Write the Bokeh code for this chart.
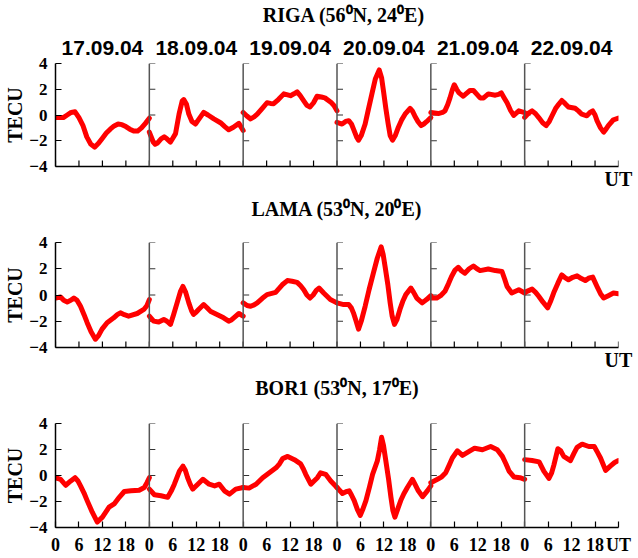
from bokeh.plotting import figure
from bokeh.models import Range1d, LinearAxis, FixedTicker, Span
from bokeh.layouts import column
from bokeh.embed import file_html
from bokeh.resources import INLINE

# ---------------- data ----------------
dates = ["17.09.04", "18.09.04", "19.09.04", "20.09.04", "21.09.04", "22.09.04"]
stations = ["RIGA (56\u2070N, 24\u2070E)", "LAMA (53\u2070N, 20\u2070E)", "BOR1 (53\u2070N, 17\u2070E)"]
hour_ticks = [0, 6, 12, 18]
tecu_ticks = [-4, -2, 0, 2, 4]
x_unit = "UT"
y_unit = "TECU"

riga_hours = [
    [0, 1, 2, 3, 4, 5, 6, 7, 8, 9, 10, 11, 12, 13, 14, 15, 16, 17, 18, 19, 20, 21, 22, 23, 24],
    [0, 1, 1.5, 2, 3, 3.8, 4.5, 5.4, 6, 6.7, 7.6, 8.4, 8.8, 9.5, 10.1, 10.9, 11.8, 12.5, 13.9, 15, 16.5, 18.2, 19.3, 20.3, 21.5, 22.9, 24],
    [0, 1, 1.9, 2.8, 3.6, 5, 6.1, 7, 7.8, 9, 10.4, 12.1, 13, 13.8, 14.6, 15.5, 16.3, 17.1, 18, 18.9, 20, 20.9, 22.6, 23.3, 24],
    [0, 1.3, 2.2, 3, 3.7, 4.2, 5, 5.5, 6.2, 7.2, 8, 8.9, 9.8, 10.8, 11.4, 11.9, 12.5, 13.1, 13.6, 14.2, 14.9, 15.7, 16.5, 17.4, 18.7, 19.3, 19.9, 20.7, 21.5, 22.2, 22.9, 24],
    [0, 1.9, 3, 3.6, 4.3, 4.9, 5.5, 6, 6.6, 7.2, 8.3, 9.2, 10, 10.9, 11.8, 12.6, 13.5, 14.7, 16.5, 17.3, 18, 18.8, 19.5, 20.4, 21.2, 22.5, 24],
    [0, 1, 1.9, 2.8, 3.6, 4.6, 5.5, 6.3, 7, 7.9, 8.7, 9.5, 10.3, 11.2, 12.9, 13.8, 14.6, 15.9, 16.7, 17.4, 18, 18.5, 19.4, 20.2, 20.8, 21.4, 22.7, 24],
]
riga_tec = [
    [-0.2, -0.2, -0.2, 0.0, 0.2, 0.25, -0.2, -0.8, -1.7, -2.25, -2.5, -2.2, -1.8, -1.4, -1.1, -0.85, -0.7, -0.75, -0.9, -1.1, -1.25, -1.25, -1.0, -0.65, -0.25],
    [-1.33, -2.1, -2.27, -2.2, -1.85, -1.7, -1.85, -2.1, -1.8, -1.45, 0.07, 1.08, 1.2, 0.83, 0.07, -0.5, -0.7, -0.4, 0.2, 0.0, -0.3, -0.6, -0.9, -1.15, -0.95, -0.65, -1.2],
    [0.2, -0.1, -0.3, -0.15, 0.06, 0.55, 0.95, 0.9, 0.88, 1.2, 1.64, 1.5, 1.65, 1.8, 1.5, 1.1, 0.75, 0.62, 0.95, 1.46, 1.4, 1.33, 0.95, 0.7, 0.32],
    [-0.57, -0.7, -0.5, -0.44, -0.7, -1.08, -1.7, -1.96, -1.6, -0.7, 0.4, 1.6, 2.8, 3.5, 2.9, 1.84, 0.5, -0.7, -1.6, -1.96, -1.6, -0.95, -0.4, 0.06, 0.52, 0.3, -0.07, -0.5, -0.82, -0.7, -0.52, -0.2],
    [0.19, 0.11, 0.2, 0.32, 0.8, 1.33, 1.95, 2.35, 2.0, 1.72, 1.46, 1.7, 1.9, 1.9, 1.6, 1.33, 1.33, 1.64, 1.54, 1.6, 1.72, 1.3, 0.95, 0.35, -0.03, 0.32, 0.19],
    [-0.19, 0.15, 0.32, 0.1, -0.2, -0.6, -0.82, -0.5, -0.06, 0.5, 0.83, 1.13, 0.9, 0.62, 0.52, 0.3, 0.06, -0.06, 0.2, 0.32, 0.0, -0.44, -1.0, -1.33, -1.1, -0.82, -0.37, -0.24],
]

lama_hours = [
    [0, 1.3, 2.1, 3, 3.9, 4.7, 5.5, 6.4, 7.3, 8.1, 9.1, 10.2, 11, 11.9, 13.2, 14.9, 15.8, 16.6, 17.6, 18.7, 20.9, 22.6, 23.4, 24],
    [0, 1.1, 2.4, 3.7, 4.5, 5.4, 6.2, 7.1, 8, 8.6, 9.3, 10.1, 10.8, 11.3, 12, 12.6, 13.9, 14.7, 15.6, 17.3, 19, 20.3, 21, 21.6, 22.9, 24],
    [0, 1, 1.9, 2.8, 3.6, 4.9, 6.1, 8.3, 9.2, 10, 11.3, 12.5, 13.8, 14.7, 15.5, 16.3, 17.1, 17.9, 18.7, 19.4, 20.6, 22.3, 24],
    [0, 1.7, 3, 3.7, 4.2, 4.9, 5.5, 6.2, 7.2, 8.2, 9.3, 10.3, 11.3, 11.8, 12.3, 13, 13.6, 14.1, 14.7, 15.3, 16.1, 16.8, 17.6, 18.9, 19.6, 20.4, 21.8, 22.9, 24],
    [0, 1.5, 2.5, 3.6, 4.5, 5.3, 6.2, 7, 7.8, 8.7, 9.8, 10.9, 11.8, 12.6, 14.7, 16.5, 18.2, 18.9, 19.5, 20.7, 22.5, 24],
    [0, 1.9, 2.8, 3.6, 4.7, 5.9, 6.6, 7.4, 8.5, 9.5, 10.4, 11.2, 12.3, 13.4, 14.5, 15.5, 16.5, 17.4, 18.5, 19.4, 20.2, 21.4, 22.7, 24],
]
lama_tec = [
    [-0.23, -0.15, -0.4, -0.53, -0.4, -0.23, -0.4, -0.86, -1.5, -2.11, -2.8, -3.37, -3.1, -2.6, -2.11, -1.74, -1.5, -1.36, -1.5, -1.61, -1.41, -1.1, -0.8, -0.35],
    [-1.61, -1.99, -2.06, -1.86, -2.0, -2.24, -1.5, -0.6, 0.3, 0.65, 0.2, -0.6, -1.2, -1.48, -1.3, -1.11, -0.73, -0.95, -1.23, -1.48, -1.74, -1.99, -1.9, -1.74, -1.41, -1.61],
    [-0.6, -0.8, -0.86, -0.75, -0.6, -0.25, 0.03, 0.2, 0.5, 0.78, 1.1, 1.05, 0.96, 0.7, 0.4, 0.0, -0.23, 0.0, 0.35, 0.53, 0.15, -0.35, -0.6],
    [-0.6, -0.73, -0.73, -1.0, -1.36, -2.0, -2.6, -2.0, -0.86, 0.4, 1.66, 2.8, 3.67, 3.1, 2.16, 0.8, -0.6, -1.6, -2.24, -1.9, -1.1, -0.5, 0.03, 0.53, 0.2, -0.23, -0.6, -0.35, -0.05],
    [-0.23, -0.23, -0.05, 0.28, 0.85, 1.41, 1.9, 2.11, 1.85, 1.66, 2.0, 2.21, 2.0, 1.86, 1.98, 1.86, 1.79, 1.2, 0.65, 0.15, 0.4, 0.15],
    [0.2, 0.45, 0.2, -0.1, -0.55, -0.98, -0.5, 0.15, 0.9, 1.53, 1.3, 1.16, 1.35, 1.46, 1.25, 1.1, 1.3, 1.36, 0.65, 0.1, -0.23, -0.05, 0.15, 0.1],
]

bor1_hours = [
    [0, 1.3, 2.6, 3.9, 5, 5.7, 6.4, 7.3, 8.1, 9.4, 10.7, 12, 13.7, 15, 16.3, 17.6, 19.3, 21.4, 22.7, 23.4, 24],
    [0, 1.3, 3, 4.7, 5.6, 6.4, 7.7, 8.6, 9.2, 9.8, 10.5, 11.1, 11.8, 12.4, 13.7, 15.3, 16.7, 17.9, 19.2, 20.5, 22.1, 24],
    [0, 1.5, 3.3, 5, 6.7, 8.4, 9.3, 10.1, 11.4, 13.1, 14.7, 15.4, 16, 17.3, 18.2, 19, 19.8, 21.1, 22.4, 24],
    [0, 1.4, 2.3, 3.1, 3.7, 4.4, 5.2, 5.96, 6.6, 7.4, 8.3, 9.1, 10.3, 10.9, 11.4, 11.9, 12.5, 13.2, 13.8, 14.3, 14.8, 15.5, 16.3, 17.1, 18, 19.3, 20, 20.8, 21.9, 23.1, 24],
    [0, 1.7, 2.8, 3.8, 4.7, 5.5, 6.8, 8.1, 9.8, 11.2, 13.2, 15.3, 17, 18.3, 19.2, 20, 21.3, 22.8, 24],
    [0, 1.9, 3.7, 4.9, 6.2, 6.9, 7.5, 8.5, 9.2, 10, 11.7, 12.6, 13.4, 14.7, 16.4, 17.8, 18.6, 19.4, 20.7, 21.9, 23, 24],
]
bor1_tec = [
    [-0.17, -0.29, -0.75, -0.42, -0.17, -0.4, -0.8, -1.35, -1.93, -2.82, -3.58, -3.2, -2.44, -2.19, -1.68, -1.23, -1.18, -1.13, -0.92, -0.55, -0.17],
    [-1.05, -1.48, -1.56, -1.68, -1.2, -0.67, 0.34, 0.72, 0.4, -0.17, -0.7, -1.05, -0.85, -0.67, -0.29, -0.67, -0.8, -0.67, -1.18, -1.43, -1.05, -0.92],
    [-0.92, -0.97, -0.67, -0.17, 0.21, 0.59, 0.9, 1.3, 1.47, 1.22, 0.9, 0.5, 0.09, -0.67, -0.4, -0.17, 0.21, 0.09, -0.42, -0.92],
    [-0.92, -1.38, -1.25, -1.18, -1.5, -1.93, -2.6, -3.07, -2.6, -1.93, -0.9, 0.09, 1.1, 2.0, 2.94, 2.3, 1.1, -0.3, -1.68, -2.7, -3.2, -2.6, -1.93, -1.4, -0.92, -0.29, -0.7, -1.18, -1.63, -1.18, -0.8],
    [-0.55, -0.29, -0.1, 0.21, 0.8, 1.35, 1.9, 1.55, 1.85, 2.1, 1.98, 2.23, 1.98, 1.47, 0.9, 0.34, -0.12, -0.17, -0.29],
    [1.22, 1.15, 1.05, 0.34, -0.22, 0.2, 0.84, 2.06, 1.9, 1.47, 1.15, 1.7, 2.16, 2.41, 2.23, 2.23, 1.8, 1.35, 0.39, 0.72, 1.0, 1.15],
]

# ---------------- styling ----------------
SERIF = "Liberation Serif"
SANS = "Liberation Sans"
W = 638
BL, BR = 55, 20
DAY = 24
NDAYS = len(dates)
TICK_PX = 6


def text_axis(ticks, labels, font, size, standoff):
    ax = LinearAxis(ticker=FixedTicker(ticks=ticks),
                    major_label_overrides={t: s for t, s in zip(ticks, labels)})
    ax.axis_line_color = None
    ax.major_tick_line_color = None
    ax.minor_tick_line_color = None
    ax.major_label_text_font = font
    ax.major_label_text_font_style = "bold"
    ax.major_label_text_font_size = size
    ax.major_label_text_color = "black"
    ax.major_label_standoff = standoff
    return ax


def make_panel(title, hours, tec, show_dates, show_xlabels, height, btop, bbottom,
               title_standoff, title_shift_px, ut_standoff):
    p = figure(width=W, height=height, x_range=Range1d(0, DAY * NDAYS), y_range=Range1d(-4, 4),
               output_backend="svg", toolbar_location=None, title=None,
               min_border_left=BL, min_border_right=BR, min_border_top=btop, min_border_bottom=bbottom)
    p.grid.visible = False
    p.outline_line_color = None
    p.background_fill_color = "white"
    p.border_fill_color = "white"

    frame_h = height - btop - bbottom
    px_per_h = (W - BL - BR) / (DAY * NDAYS)
    tick_x = TICK_PX / px_per_h
    tick_y = TICK_PX * 8.0 / frame_h

    # the figure's own axes (grab them before any extra axis is added)
    xax = p.below[0]
    yax = p.left[0]

    # y axis
    yax.ticker = FixedTicker(ticks=tecu_ticks)
    yax.major_tick_in = TICK_PX
    yax.major_tick_out = 0
    yax.minor_tick_line_color = None
    yax.axis_line_color = "black"
    yax.axis_line_width = 1.5
    yax.major_tick_line_width = 1.2
    yax.major_label_text_font = SERIF
    yax.major_label_text_font_style = "bold"
    yax.major_label_text_font_size = "17px"
    yax.major_label_text_color = "black"
    yax.major_label_standoff = 8
    yax.axis_label = y_unit
    yax.axis_label_text_font = SERIF
    yax.axis_label_text_font_style = "bold"
    yax.axis_label_text_font_size = "20px"
    yax.axis_label_text_color = "black"
    yax.axis_label_standoff = 0

    # x axis
    ticks = [d * DAY + h for d in range(NDAYS) for h in hour_ticks] + [DAY * NDAYS]
    xax.minor_tick_line_color = None
    xax.axis_line_color = "black"
    xax.axis_line_width = 1.5
    xax.major_label_text_font = SERIF
    xax.major_label_text_font_style = "bold"
    xax.major_label_text_color = "black"
    xax.major_tick_in = TICK_PX
    xax.major_tick_out = 0
    xax.major_tick_line_width = 1.2
    if show_xlabels:
        xax.ticker = FixedTicker(ticks=ticks)
        overrides = {d * DAY + h: str(h) for d in range(NDAYS) for h in hour_ticks}
        overrides[DAY * NDAYS] = x_unit
        xax.major_label_overrides = overrides
        xax.major_label_text_font_size = "18px"
        xax.major_label_standoff = ut_standoff
    else:
        # only the unit label on the axis; ticks drawn as short segments
        xax.ticker = FixedTicker(ticks=[DAY * NDAYS])
        xax.major_label_overrides = {DAY * NDAYS: x_unit}
        xax.major_tick_line_color = None
        xax.major_label_text_font_size = "20px"
        xax.major_label_standoff = ut_standoff
        p.segment(x0=ticks, x1=ticks, y0=[-4] * len(ticks), y1=[-4 + tick_y] * len(ticks),
                  line_color="black", line_width=1.2)

    # date labels on top (closest to frame)
    if show_dates:
        centers = [d * DAY + DAY / 2 for d in range(NDAYS)]
        p.add_layout(text_axis(centers, dates, SANS, "21px", 3), "above")

    # station title
    title_x = DAY * NDAYS / 2 + title_shift_px / px_per_h
    p.add_layout(text_axis([title_x], [title], SERIF, "20px", title_standoff), "above")

    # day separators with inward ticks
    bounds = [d * DAY for d in range(1, NDAYS)]
    for b in bounds:
        p.add_layout(Span(location=b, dimension="height", line_color="#555555", line_width=1.5))
    sx0, sx1, sy = [], [], []
    for b in bounds:
        for t in tecu_ticks:
            sx0.append(b)
            sx1.append(b + tick_x)
            sy.append(t)
    p.segment(x0=sx0, x1=sx1, y0=sy, y1=sy, line_color="#333333", line_width=1.2)

    xs = [[d * DAY + h for h in hours[d]] for d in range(NDAYS)]
    p.multi_line(xs=xs, ys=tec, line_color="red", line_width=5, line_cap="round", line_join="round")
    return p


p1 = make_panel(stations[0], riga_hours, riga_tec, True, False, 192, 62, 25, 6, 7, 1)
p2 = make_panel(stations[1], lama_hours, lama_tec, False, False, 181, 50, 25, 17, 0, 1)
p3 = make_panel(stations[2], bor1_hours, bor1_tec, False, True, 185, 49, 31, 19, 0, 7)

layout = column(p1, p2, p3, spacing=0)
open("out.html", "w").write(file_html(layout, INLINE))
